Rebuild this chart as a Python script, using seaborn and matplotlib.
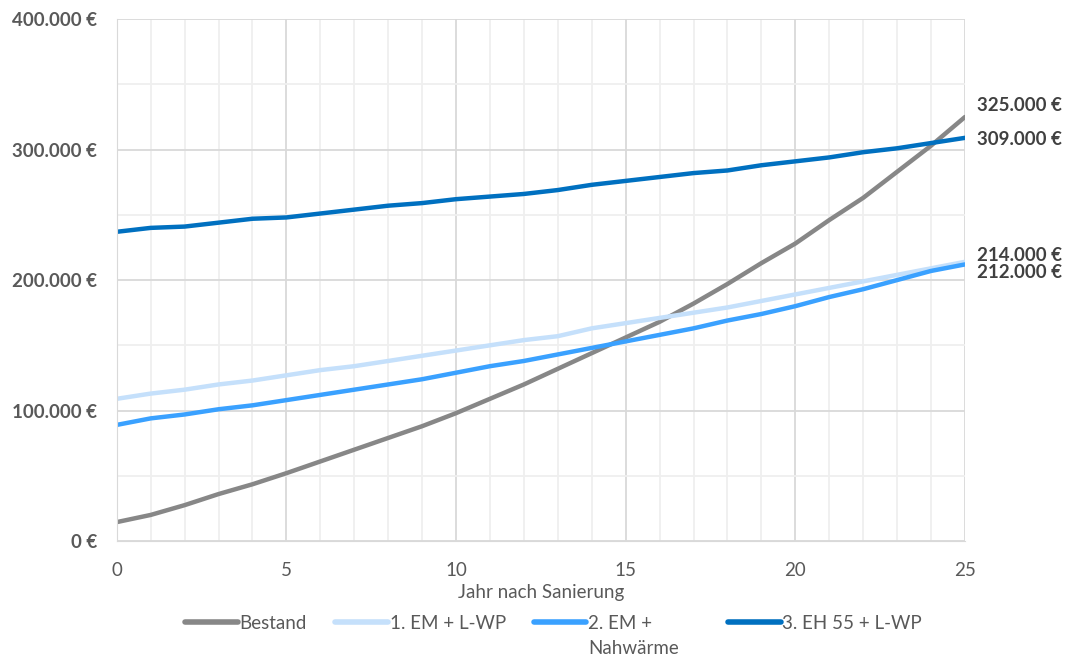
import matplotlib.pyplot as plt
import seaborn as sns
import pandas as pd
from matplotlib.ticker import MultipleLocator, FuncFormatter

years = list(range(26))
bestand = [14.5, 20, 27.5, 36, 43.5, 52, 61, 70, 79, 88, 98, 109, 120, 132, 144, 156,
           168, 182, 197, 213, 228, 246, 263, 283, 303, 325]
em_lwp = [109, 113, 116, 120, 123, 127, 131, 134, 138, 142, 146, 150, 154, 157, 163, 167,
          171, 175, 179, 184, 189, 194, 199, 204, 209, 214]
em_nah = [89, 94, 97, 101, 104, 108, 112, 116, 120, 124, 129, 134, 138, 143, 148, 153,
          158, 163, 169, 174, 180, 187, 193, 200, 207, 212]
eh55 = [237, 240, 241, 244, 247, 248, 251, 254, 257, 259, 262, 264, 266, 269, 273, 276,
        279, 282, 284, 288, 291, 294, 298, 301, 305, 309]

series_names = ["Bestand", "1. EM + L-WP", "2. EM + Nahwärme", "3. EH 55 + L-WP"]
# "2. EM +" wraps in the original; the second line is drawn separately below
legend_labels = ["Bestand", "1. EM + L-WP", "2. EM +          ", "3. EH 55 + L-WP"]
series_values = [bestand, em_lwp, em_nah, eh55]
colors = ["#878787", "#c5e0fb", "#3aa1ff", "#0070c0"]

rows = []
for name, vals in zip(series_names, series_values):
    for x, v in zip(years, vals):
        rows.append({"Jahr": x, "Wert": v * 1000, "Variante": name})
df = pd.DataFrame(rows)

sns.set_style("white")
plt.rcParams["font.family"] = ["Lato", "DejaVu Sans"]

fig = plt.figure(figsize=(10.71, 6.59), dpi=100)
ax = fig.add_axes([0.109, 0.179, 0.792, 0.792])

sns.lineplot(data=df, x="Jahr", y="Wert", hue="Variante", palette=colors,
             linewidth=3.2, ax=ax, legend=False)

ax.set_xlim(0, 25)
ax.set_ylim(0, 400000)
ax.xaxis.set_major_locator(MultipleLocator(5))
ax.xaxis.set_minor_locator(MultipleLocator(1))
ax.yaxis.set_major_locator(MultipleLocator(100000))
ax.yaxis.set_minor_locator(MultipleLocator(50000))
ax.grid(which="major", color="#d9d9d9", linewidth=1.3)
ax.grid(which="minor", color="#efefef", linewidth=1.3)
ax.set_axisbelow(True)
for s in ax.spines.values():
    s.set_visible(False)
ax.spines["left"].set_visible(True)
ax.spines["left"].set_color("#d9d9d9")
ax.spines["bottom"].set_visible(True)
ax.spines["bottom"].set_color("#d9d9d9")

ax.yaxis.set_major_formatter(FuncFormatter(lambda v, p: f"{int(v):,} €".replace(",", ".")))
ax.tick_params(axis="y", which="both", length=0, pad=14, labelsize=13.5, labelcolor="#595959")
for lab in ax.get_yticklabels():
    lab.set_fontweight("bold")
ax.tick_params(axis="x", which="both", length=0, pad=15, labelsize=13.5, labelcolor="#595959")
ax.set_xlabel("Jahr nach Sanierung", fontsize=13.5, color="#595959", labelpad=4)
ax.set_ylabel("")

# end labels (214 is partly covered by 212, like in the original)
label_y = {"325.000 €": 334000, "309.000 €": 308000, "214.000 €": 219000, "212.000 €": 206000}
for txt in ["325.000 €", "309.000 €", "214.000 €", "212.000 €"]:
    ax.text(25.35, label_y[txt], txt, fontsize=13.5, fontweight="bold", color="#404040",
            va="center", ha="left", clip_on=False,
            bbox=dict(facecolor="white", edgecolor="none", pad=0.8))

handles = [plt.Line2D([0], [0], color=c, lw=4) for c in colors]
leg = fig.legend(handles, legend_labels, loc="center", bbox_to_anchor=(0.517, 0.054), ncol=4,
                 frameon=False, fontsize=13.5, labelcolor="#595959", handlelength=2.8,
                 handletextpad=0.1, columnspacing=1.5)

fig.canvas.draw()
bb = leg.get_texts()[2].get_window_extent().transformed(fig.transFigure.inverted())
fig.text(bb.x0, bb.y0 - 0.012, "Nahwärme", fontsize=13.5, color="#595959",
         ha="left", va="top")

fig.savefig("out.png", dpi=100)
